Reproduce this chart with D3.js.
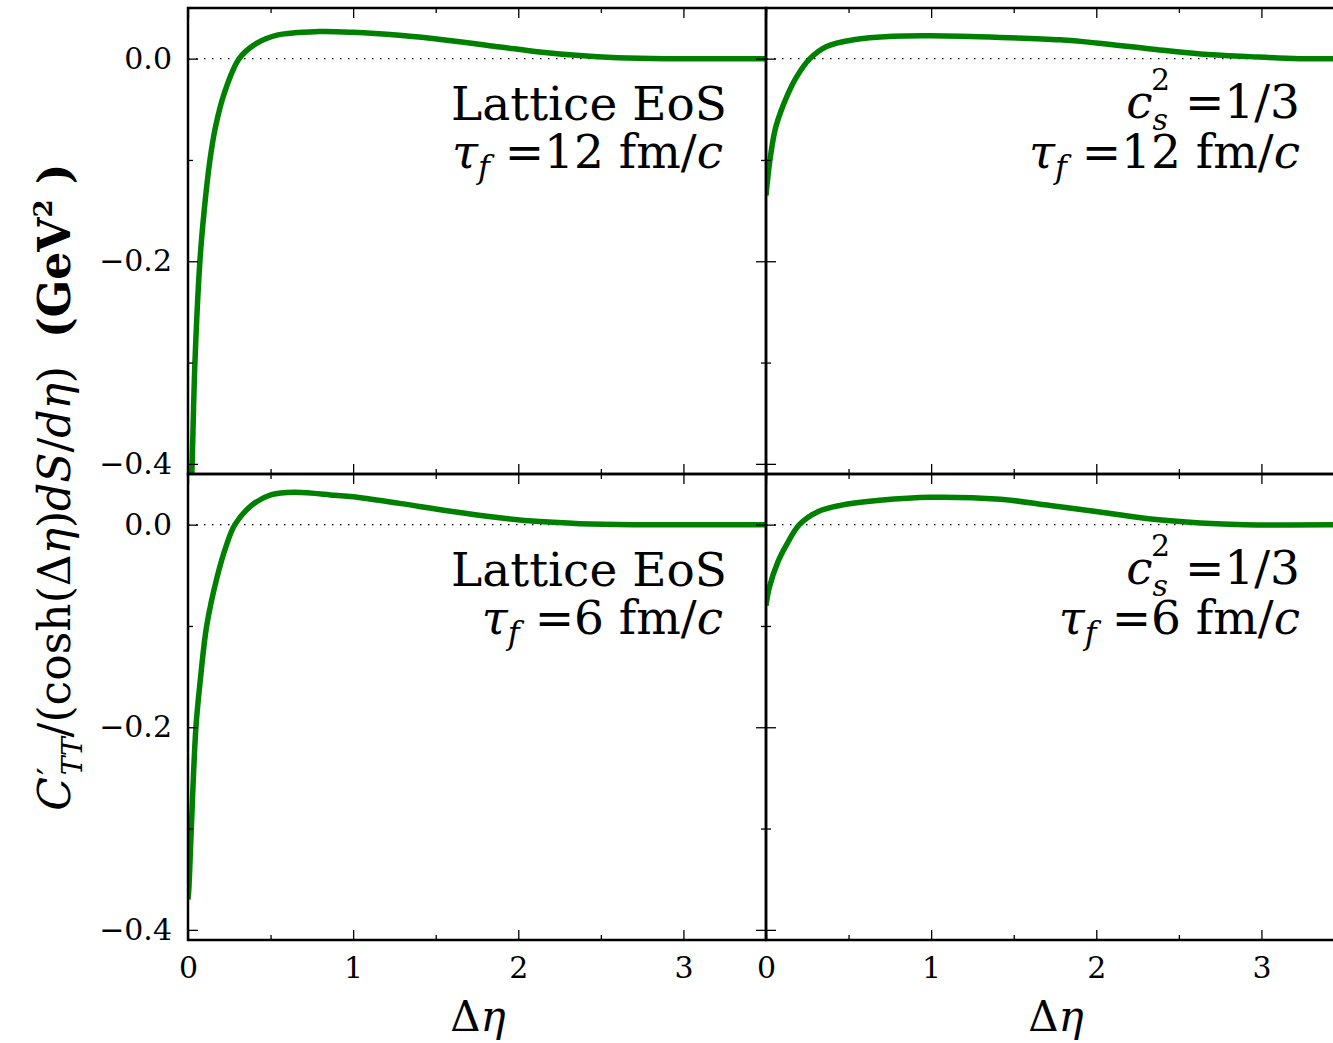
<!DOCTYPE html>
<html>
<head>
<meta charset="utf-8">
<script src="https://cdn.jsdelivr.net/npm/d3@7"></script>
<style>
  body { margin: 0; background: #fff; }
  svg { display: block; font-family: "DejaVu Serif", serif; }
</style>
</head>
<body>
<svg id="chart" width="1333" height="1043"></svg>
<script>
// Δη values and C'_TT values
const latticeTau12X = [0.015, 0.025, 0.042, 0.072, 0.098, 0.133, 0.167, 0.22, 0.31, 0.415, 0.545, 0.79, 1.0, 1.28, 1.58, 1.89, 2.13, 2.37, 2.6, 2.9, 3.5]
const latticeTau12Y = [-0.45, -0.40, -0.30, -0.20, -0.15, -0.10, -0.067, -0.034, 0.0, 0.015, 0.0234, 0.0267, 0.026, 0.023, 0.018, 0.0116, 0.0066, 0.003, 0.001, 0.0, 0.0]

const conformalTau12X = [0.0, 0.024, 0.06, 0.135, 0.186, 0.266, 0.367, 0.53, 0.77, 1.0, 1.42, 1.78, 2.0, 2.33, 2.63, 2.93, 3.23, 3.6]
const conformalTau12Y = [-0.135, -0.10, -0.067, -0.034, -0.0177, 0.0, 0.012, 0.0186, 0.022, 0.0225, 0.021, 0.0186, 0.0155, 0.0096, 0.0047, 0.002, 0.0, 0.0]

const latticeTau6X = [0.0, 0.005, 0.02, 0.048, 0.076, 0.113, 0.175, 0.234, 0.284, 0.385, 0.506, 0.647, 0.889, 1.0, 1.28, 1.58, 1.9, 2.13, 2.37, 2.7, 3.5]
const latticeTau6Y = [-0.37, -0.36, -0.30, -0.20, -0.151, -0.10, -0.0525, -0.0197, 0.0, 0.019, 0.0296, 0.032, 0.029, 0.0275, 0.021, 0.0135, 0.0066, 0.003, 0.001, 0.0, 0.0]

const conformalTau6X = [0.0, 0.02, 0.074, 0.125, 0.202, 0.317, 0.45, 0.69, 1.0, 1.42, 1.72, 2.02, 2.33, 2.63, 2.9, 3.6]
const conformalTau6Y = [-0.080, -0.062, -0.036, -0.0197, 0.0, 0.013, 0.019, 0.024, 0.027, 0.025, 0.019, 0.0125, 0.0056, 0.0017, 0.0, 0.0]

const xDomain = [0, 3.5]
const yDomain = [-0.41, 0.05]
const xMajor = [0, 1, 2, 3]
const xMinor = [0.5, 1.5, 2.5, 3.5]
const yMajor = [0.0, -0.2, -0.4]
const yMinor = [-0.1, -0.3]

const panels = [
  {id: "tl", col: 0, row: 0, xs: latticeTau12X, ys: latticeTau12Y, eos: "lattice", tau: "12"},
  {id: "tr", col: 1, row: 0, xs: conformalTau12X, ys: conformalTau12Y, eos: "conformal", tau: "12"},
  {id: "bl", col: 0, row: 1, xs: latticeTau6X, ys: latticeTau6Y, eos: "lattice", tau: "6"},
  {id: "br", col: 1, row: 1, xs: conformalTau6X, ys: conformalTau6Y, eos: "conformal", tau: "6"}
]

const svg = d3.select("#chart")
const colX = [188, 766]
const panelW = 578
const rowY = [8, 474]
const panelH = 466
const green = "#008000"

panels.forEach(p => {
  const x0 = colX[p.col], y0 = rowY[p.row]
  const x = d3.scaleLinear().domain(xDomain).range([x0, x0 + panelW])
  const y = d3.scaleLinear().domain(yDomain).range([y0 + panelH, y0])

  svg.append("clipPath").attr("id", "clip-" + p.id)
    .append("rect").attr("x", x0).attr("y", y0).attr("width", panelW).attr("height", panelH)

  const g = svg.append("g")

  // zero line
  g.append("line")
    .attr("x1", x0).attr("x2", x0 + panelW)
    .attr("y1", y(0)).attr("y2", y(0))
    .attr("stroke", "#000").attr("stroke-width", 1.2)
    .attr("stroke-dasharray", "1.5,6.5")

  const pts = p.xs.map((d, i) => [d, p.ys[i]])
  g.append("path")
    .datum(pts)
    .attr("clip-path", "url(#clip-" + p.id + ")")
    .attr("fill", "none")
    .attr("stroke", green)
    .attr("stroke-width", 5.5)
    .attr("stroke-linejoin", "round")
    .attr("d", d3.line().x(d => x(d[0])).y(d => y(d[1])).curve(d3.curveCatmullRom.alpha(0.5)))

  // ticks, pointing inward on all sides
  const tickAxis = (axisFn, scale, vals, size, labels, pad) =>
    axisFn(scale).tickValues(vals).tickSizeInner(-size).tickSizeOuter(0)
      .tickPadding(pad || 0)
      .tickFormat(labels ? labels : "")

  const addAxis = (axis, tx, ty) => {
    const a = g.append("g").attr("transform", `translate(${tx},${ty})`).call(axis)
    a.select(".domain").remove()
    a.selectAll(".tick line").attr("stroke", "#000").attr("stroke-width", 1.3)
    a.selectAll("text").attr("font-family", "DejaVu Serif").attr("font-size", 30).attr("fill", "#000")
    return a
  }

  const showY = p.col === 0
  const showX = p.row === 1
  addAxis(tickAxis(d3.axisLeft, y, yMajor, 10, showY ? d3.format(".1f") : null, 16), x0, 0)
  addAxis(tickAxis(d3.axisLeft, y, yMinor, 5), x0, 0)
  addAxis(tickAxis(d3.axisRight, y, yMajor, 10), x0 + panelW, 0)
  addAxis(tickAxis(d3.axisRight, y, yMinor, 5), x0 + panelW, 0)
  addAxis(tickAxis(d3.axisBottom, x, xMajor, 10, showX ? d3.format("d") : null, 17), 0, y0 + panelH)
  addAxis(tickAxis(d3.axisBottom, x, xMinor, 5), 0, y0 + panelH)
  addAxis(tickAxis(d3.axisTop, x, xMajor, 10), 0, y0)
  addAxis(tickAxis(d3.axisTop, x, xMinor, 5), 0, y0)

  g.append("rect")
    .attr("x", x0).attr("y", y0).attr("width", panelW).attr("height", panelH)
    .attr("fill", "none").attr("stroke", "#000").attr("stroke-width", 2.5)

  // annotation text
  const tx = p.col === 0 ? x0 + 539 : x0 + 534
  const line1 = g.append("text")
    .attr("x", tx).attr("y", y0 + (p.col === 0 ? 112 : 110))
    .attr("text-anchor", "end").attr("font-size", 47).attr("fill", "#000")
  if (p.eos === "lattice") {
    line1.text("Lattice EoS")
  } else {
    line1.append("tspan").attr("font-style", "italic").text("c")
    line1.append("tspan").attr("font-style", "italic").attr("font-size", 30).attr("dy", 12).text("s")
    line1.append("tspan").attr("font-size", 30).attr("dx", -17).attr("dy", -40).text("2")
    line1.append("tspan").attr("dy", 28).text("\u00a0=1/3")
  }
  const line2 = g.append("text")
    .attr("x", tx - (p.col === 0 ? 4 : 0)).attr("y", y0 + 160)
    .attr("text-anchor", "end").attr("font-size", 47).attr("fill", "#000")
  line2.append("tspan").attr("font-style", "italic").text("\u03c4")
  line2.append("tspan").attr("font-style", "italic").attr("font-size", 32).attr("dy", 10).text("f")
  line2.append("tspan").attr("dy", -10).text("\u00a0=" + p.tau + " fm/")
  line2.append("tspan").attr("font-style", "italic").text("c")
})

// x axis titles
colX.forEach(cx => {
  const t = svg.append("text")
    .attr("x", cx + 290).attr("y", 1031)
    .attr("text-anchor", "middle").attr("font-size", 42).attr("fill", "#000")
  t.append("tspan").text("\u0394")
  t.append("tspan").attr("font-style", "italic").text("\u03b7")
})

// y axis title
const yl = svg.append("text")
  .attr("transform", "translate(70,487) rotate(-90)")
  .attr("text-anchor", "middle").attr("font-size", 44).attr("fill", "#000")
yl.append("tspan").attr("font-style", "italic").text("C")
yl.append("tspan").attr("font-size", 34).attr("dx", 2).attr("dy", -8).text("\u2032")
yl.append("tspan").attr("font-style", "italic").attr("font-size", 28).attr("dx", -8).attr("dy", 20).text("TT")
yl.append("tspan").attr("dy", -12).text("/(cosh(\u0394")
yl.append("tspan").attr("font-style", "italic").text("\u03b7")
yl.append("tspan").text(")")
yl.append("tspan").attr("font-style", "italic").text("dS")
yl.append("tspan").text("/")
yl.append("tspan").attr("font-style", "italic").text("d\u03b7")
yl.append("tspan").text(")\u00a0\u00a0")
yl.append("tspan").attr("font-weight", "bold").text("(GeV")
yl.append("tspan").attr("font-weight", "bold").attr("font-size", 26).attr("dy", -18).text("2")
yl.append("tspan").attr("font-weight", "bold").attr("dy", 18).text("\u00a0)")
</script>
</body>
</html>
